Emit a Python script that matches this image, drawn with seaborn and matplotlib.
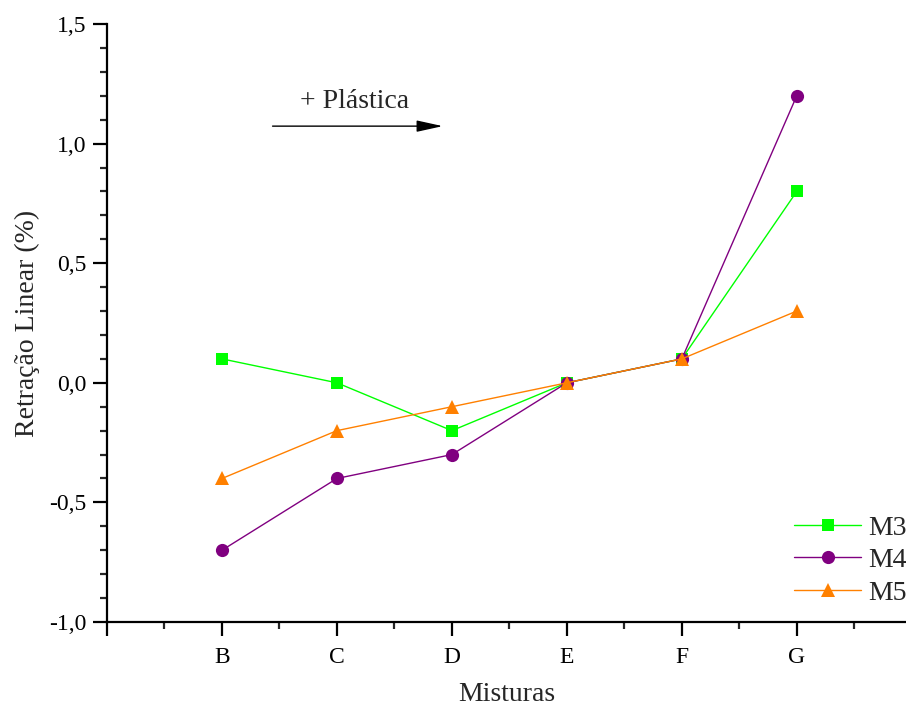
import matplotlib
matplotlib.use("Agg")
import matplotlib.pyplot as plt
import seaborn as sns
import pandas as pd
from matplotlib.ticker import MultipleLocator, FixedLocator

categories = ["B", "C", "D", "E", "F", "G"]
m3 = [0.1, 0.0, -0.2, 0.0, 0.1, 0.8]
m4 = [-0.7, -0.4, -0.3, 0.0, 0.1, 1.2]
m5 = [-0.4, -0.2, -0.1, 0.0, 0.1, 0.3]
series_names = ["M3", "M4", "M5"]
y_ticks = [-1.0, -0.5, 0.0, 0.5, 1.0, 1.5]
y_tick_labels = ["-1,0", "-0,5", "0,0", "0,5", "1,0", "1,5"]

rows = []
for name, vals in zip(series_names, [m3, m4, m5]):
    for i, (c, v) in enumerate(zip(categories, vals)):
        rows.append({"pos": i + 1, "cat": c, "val": v, "serie": name})
df = pd.DataFrame(rows)

sns.set_style("ticks")
plt.rcParams["font.family"] = ["Liberation Serif", "DejaVu Serif"]

fig = plt.figure(figsize=(9.06, 7.07), dpi=100)
ax = fig.add_axes([107 / 906, 85 / 707, (906 - 107) / 906, (622 - 24) / 707])

palette = {"M3": "#00FF00", "M4": "#800080", "M5": "#FF8000"}
markers = {"M3": "s", "M4": "o", "M5": "^"}
sizes = {"M3": 8.5, "M4": 9.5, "M5": 10.5}

for name in series_names:
    sub = df[df["serie"] == name]
    sns.lineplot(data=sub, x="pos", y="val", ax=ax, color=palette[name],
                 marker=markers[name], markersize=sizes[name],
                 markeredgewidth=0, linewidth=1.0, label=name, legend=False,
                 estimator=None, sort=False)

ax.set_xlim(0, 6.95)
ax.set_ylim(-1.0, 1.5)
ax.xaxis.set_major_locator(FixedLocator(range(0, 7)))
ax.set_xticklabels([""] + categories)
ax.xaxis.set_minor_locator(MultipleLocator(0.5))
ax.yaxis.set_major_locator(FixedLocator(y_ticks))
ax.set_yticklabels(y_tick_labels)
ax.yaxis.set_minor_locator(MultipleLocator(0.1))

for s in ["top", "right"]:
    ax.spines[s].set_visible(False)
for s in ["left", "bottom"]:
    ax.spines[s].set_linewidth(1.6)
    ax.spines[s].set_color("black")

ax.tick_params(axis="both", which="major", direction="out", length=10, width=1.6,
               labelsize=17, colors="black", pad=5)
ax.tick_params(axis="both", which="minor", direction="out", length=5, width=1.6)
ax.tick_params(axis="x", which="major", pad=8)

ax.set_xlabel("Misturas", fontsize=20, labelpad=10)
ax.set_ylabel("Retração Linear (%)", fontsize=20, labelpad=6)

ax.annotate("", xy=(2.92, 1.073), xytext=(1.44, 1.073),
            arrowprops=dict(arrowstyle="-|>,head_width=0.22,head_length=1.0",
                            color="black", lw=1.0,
                            mutation_scale=16, shrinkA=0, shrinkB=0))
ax.text(2.15, 1.174, "+ Plástica", fontsize=20, ha="center", va="center")

leg = ax.legend(loc="lower right", bbox_to_anchor=(1.025, -0.005), frameon=False,
                fontsize=20, handlelength=2.4, handletextpad=0.25,
                labelspacing=0.25, borderaxespad=0.3)

fig.savefig("out.png", dpi=100)
